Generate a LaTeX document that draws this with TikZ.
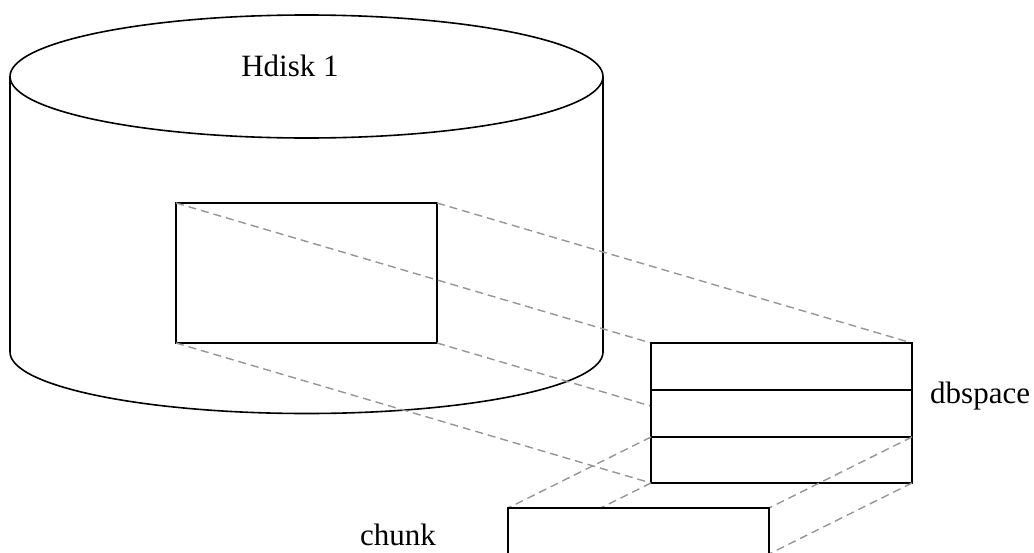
\documentclass[tikz,border=0pt]{standalone}
\usepackage{fontspec}
\setmainfont{Liberation Serif}
\definecolor{linkgray}{RGB}{150,150,150}
\begin{document}
\begin{tikzpicture}[x=1pt,y=-1pt,
  outline/.style={draw=black,line width=1.6pt},
  area/.style={outline,fill=white,inner sep=0pt,outer sep=0pt,anchor=north west},
  link/.style={draw=linkgray,line width=1.4pt,dash pattern=on 8pt off 5pt},
  label/.style={font=\fontsize{31}{34}\selectfont,inner sep=0pt}]
\clip (0,0) rectangle (1034,552);
\fill[white] (0,0) rectangle (1034,552);

% disk cylinder
\draw[outline,fill=white] (10,76.5) -- (10,352)
  arc[start angle=180,end angle=360,x radius=296.5pt,y radius=61.5pt]
  -- (603,76.5);
\draw[outline] (306.5,76.5) ellipse [x radius=296.5pt,y radius=61.5pt];
\node[label,anchor=base] (disk) at (290,76) {Hdisk 1};

% region on the disk
\node[area,fill=none,minimum width=261pt,minimum height=140pt] (part) at (176,203) {};

% projection lines to the dbspace
\draw[link] (part.north west) -- (651,343) coordinate (dbnw);
\draw[link] (part.north east) -- (912,343) coordinate (dbne);
\draw[link] (part.south west) -- (651,483) coordinate (dbsw);
\draw[link] (part.south east) -- (912,483) coordinate (dbse);

% dbspace split into three chunks
\node[area,minimum width=261pt,minimum height=140pt] (db) at (651,343) {};
\coordinate (d1w) at (651,390); \coordinate (d1e) at (912,390);
\coordinate (d2w) at (651,437); \coordinate (d2e) at (912,437);
\draw[outline] (d1w) -- (d1e);
\draw[outline] (d2w) -- (d2e);
\node[label,anchor=base west] (dblabel) at (930,403) {dbspace};

% projection of the last chunk
\coordinate (cnw) at (508,508); \coordinate (cne) at (769,508);
\coordinate (csw) at (508,554); \coordinate (cse) at (769,554);
\draw[link] (d2w) -- (cnw);
\draw[link] (d2e) -- (cne);
\draw[link] (db.south west) -- (csw);
\draw[link] (db.south east) -- (cse);
\node[area,minimum width=261pt,minimum height=46pt] (chunk) at (cnw) {};
\node[label,anchor=base east] (chunklabel) at (436,545) {chunk};
\end{tikzpicture}
\end{document}
